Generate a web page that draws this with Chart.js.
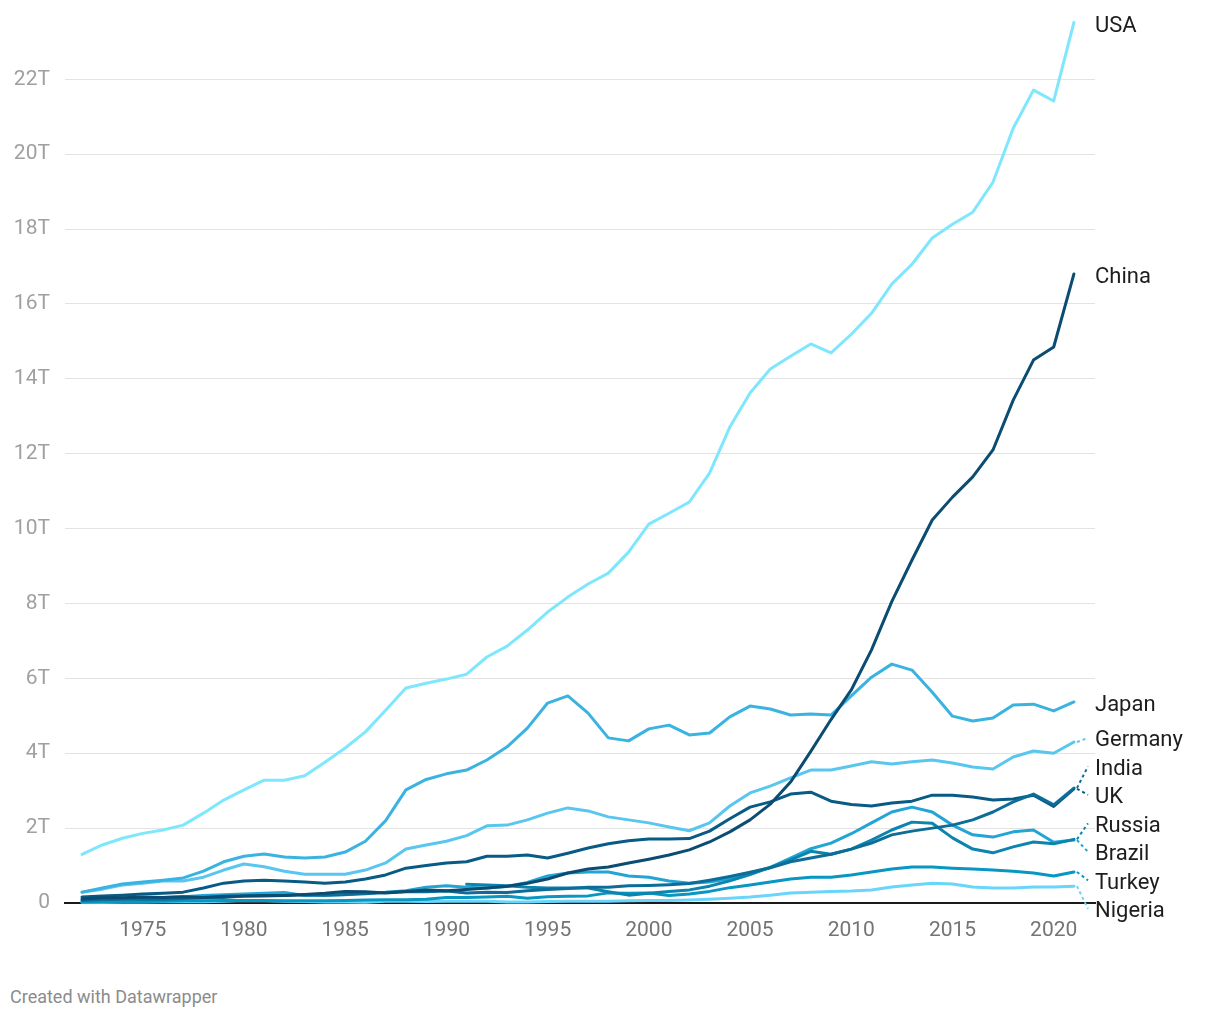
<!DOCTYPE html>
<html><head><meta charset="utf-8">
<script src="https://cdn.jsdelivr.net/npm/chart.js@4"></script>
<style>
html,body{margin:0;padding:0;background:#fff;}
#wrap{position:relative;width:1220px;height:1020px;}
#box{position:absolute;left:0;top:0;width:1220px;height:970px;}
#foot{position:absolute;left:10px;top:986px;font:18px Roboto, sans-serif;color:#8c8c8c;}
</style></head><body>
<div id="wrap"><div id="box"><canvas id="c"></canvas></div><div id="foot">Created with Datawrapper</div></div>
<script>
const years = [1972,1973,1974,1975,1976,1977,1978,1979,1980,1981,
1982,1983,1984,1985,1986,1987,1988,1989,1990,1991,
1992,1993,1994,1995,1996,1997,1998,1999,2000,2001,
2002,2003,2004,2005,2006,2007,2008,2009,2010,2011,
2012,2013,2014,2015,2016,2017,2018,2019,2020,2021];

const usa = [1.3,1.55,1.73,1.86,1.95,2.08,2.4,2.75,3.02,3.28,
3.28,3.4,3.76,4.14,4.57,5.15,5.74,5.87,5.98,6.11,
6.57,6.86,7.29,7.77,8.17,8.52,8.81,9.37,10.12,10.41,
10.71,11.48,12.71,13.62,14.26,14.6,14.93,14.69,15.19,15.75,
16.53,17.06,17.76,18.13,18.45,19.25,20.69,21.71,21.42,23.52];
const china = [0.11,0.14,0.14,0.16,0.15,0.17,0.15,0.18,0.19,0.2,
0.2,0.23,0.26,0.31,0.3,0.27,0.31,0.35,0.33,0.36,
0.4,0.45,0.53,0.64,0.8,0.91,0.96,1.07,1.17,1.28,
1.42,1.63,1.9,2.22,2.64,3.23,4.05,4.9,5.69,6.76,
8.05,9.16,10.23,10.84,11.38,12.1,13.43,14.5,14.85,16.8];
const japan = [0.29,0.4,0.51,0.56,0.61,0.67,0.85,1.1,1.25,1.31,
1.23,1.2,1.23,1.36,1.65,2.2,3.02,3.3,3.45,3.55,
3.82,4.17,4.67,5.34,5.53,5.07,4.41,4.33,4.65,4.75,
4.49,4.54,4.97,5.26,5.18,5.02,5.05,5.02,5.53,6.03,
6.38,6.22,5.63,4.99,4.86,4.94,5.29,5.31,5.13,5.37];
const germany = [0.29,0.37,0.48,0.53,0.59,0.59,0.69,0.88,1.04,0.97,
0.85,0.77,0.77,0.77,0.88,1.07,1.44,1.55,1.65,1.8,
2.06,2.08,2.22,2.4,2.54,2.46,2.3,2.22,2.14,2.03,
1.93,2.14,2.59,2.94,3.12,3.34,3.55,3.55,3.66,3.77,
3.71,3.77,3.82,3.74,3.63,3.58,3.9,4.06,4.0,4.3];
const india = [0.07,0.085,0.1,0.1,0.1,0.12,0.14,0.15,0.19,0.19,
0.2,0.22,0.21,0.23,0.25,0.28,0.3,0.3,0.32,0.27,
0.29,0.28,0.33,0.36,0.39,0.42,0.42,0.46,0.47,0.49,
0.52,0.61,0.71,0.82,0.94,1.1,1.2,1.3,1.44,1.6,
1.82,1.92,2.0,2.08,2.22,2.43,2.7,2.91,2.62,3.07];
const uk = [0.16,0.19,0.21,0.24,0.26,0.29,0.4,0.53,0.59,0.61,
0.59,0.56,0.53,0.56,0.64,0.75,0.93,1.0,1.07,1.1,
1.25,1.25,1.28,1.2,1.33,1.47,1.58,1.66,1.71,1.71,
1.72,1.92,2.25,2.56,2.7,2.91,2.96,2.72,2.63,2.59,
2.67,2.72,2.88,2.88,2.83,2.75,2.78,2.88,2.58,3.05];
const russia = [null,null,null,null,null,null,null,null,null,null,
null,null,null,null,null,null,null,null,null,0.5,
0.48,0.46,0.42,0.4,0.4,0.4,0.3,0.21,0.26,0.31,
0.35,0.45,0.59,0.76,0.95,1.15,1.38,1.3,1.44,1.68,
1.95,2.16,2.13,1.74,1.44,1.34,1.5,1.63,1.58,1.7];
const brazil = [0.06,0.08,0.1,0.12,0.15,0.17,0.2,0.22,0.24,0.26,
0.28,0.2,0.21,0.22,0.27,0.29,0.33,0.42,0.46,0.42,
0.4,0.44,0.55,0.72,0.8,0.83,0.83,0.72,0.69,0.59,
0.53,0.56,0.65,0.8,0.95,1.2,1.45,1.6,1.85,2.14,
2.43,2.56,2.43,2.08,1.82,1.76,1.9,1.95,1.62,1.68];
const turkey = [0.02,0.025,0.03,0.04,0.05,0.06,0.06,0.07,0.07,0.07,
0.06,0.06,0.06,0.07,0.08,0.09,0.09,0.1,0.15,0.15,
0.16,0.18,0.13,0.17,0.18,0.19,0.27,0.26,0.27,0.2,
0.24,0.31,0.41,0.48,0.56,0.64,0.69,0.69,0.75,0.83,
0.91,0.96,0.96,0.93,0.91,0.88,0.85,0.8,0.72,0.83];
const nigeria = [0.012,0.015,0.025,0.028,0.036,0.036,0.036,0.047,0.064,0.06,
0.05,0.04,0.03,0.03,0.02,0.05,0.05,0.04,0.05,0.05,
0.05,0.03,0.03,0.04,0.05,0.05,0.05,0.06,0.07,0.07,
0.08,0.1,0.13,0.16,0.21,0.27,0.29,0.31,0.32,0.35,
0.43,0.48,0.53,0.51,0.43,0.4,0.4,0.43,0.43,0.45];

const seriesNames = ["USA","China","Japan","Germany","India","UK","Russia","Brazil","Turkey","Nigeria"];
const seriesValues = [usa,china,japan,germany,india,uk,russia,brazil,turkey,nigeria];
const seriesColors = ["#7ee7fd","#0a4c72","#3ab3e0","#58c6ef","#0b6d98","#085b84","#0b84ae","#22a4d5","#0896c3","#69d5fa"];
const yTickValues = [0,2,4,6,8,10,12,14,16,18,20,22];
const xTickValues = [1975,1980,1985,1990,1995,2000,2005,2010,2015,2020];

const FONT = "Roboto, 'Noto Sans', sans-serif";

const endLabels = {
  id: 'endLabels',
  afterDatasetsDraw(chart) {
    const ctx = chart.ctx;
    const items = [];
    chart.data.datasets.forEach((ds, i) => {
      const meta = chart.getDatasetMeta(i);
      let last = -1;
      for (let k = ds.data.length - 1; k >= 0; k--) { if (ds.data[k].y !== null) { last = k; break; } }
      const pt = meta.data[last];
      items.push({ name: ds.label, color: ds.borderColor, x: pt.x, y: pt.y, t: pt.y + 4 });
    });
    items.sort((a, b) => a.t - b.t);
    const gap = 28.5;
    let clusters = items.map(it => ({ items: [it] }));
    const start = c => c.items.reduce((s, i) => s + i.t, 0) / c.items.length - (c.items.length - 1) * gap / 2;
    let changed = true;
    while (changed) {
      changed = false;
      for (let i = 0; i < clusters.length - 1; i++) {
        const a = clusters[i], b = clusters[i + 1];
        const aEnd = start(a) + (a.items.length - 1) * gap;
        if (start(b) - aEnd < gap) { a.items = a.items.concat(b.items); clusters.splice(i + 1, 1); changed = true; break; }
      }
    }
    clusters.forEach(c => { const s = start(c); c.items.forEach((it, k) => it.ly = s + k * gap); });
    const lx = chart.chartArea.right;
    ctx.save();
    items.forEach(it => {
      if (Math.abs(it.ly - it.t) > 4) {
        ctx.beginPath();
        ctx.setLineDash([3, 3]);
        ctx.strokeStyle = it.color;
        ctx.lineWidth = 2;
        ctx.moveTo(it.x + 3, it.y);
        ctx.lineTo(lx - 7, it.ly - 3);
        ctx.stroke();
      }
      ctx.setLineDash([]);
      ctx.fillStyle = '#1d1d1d';
      ctx.font = '22px ' + FONT;
      ctx.textAlign = 'left';
      ctx.textBaseline = 'middle';
      ctx.fillText(it.name, lx, it.ly);
    });
    ctx.restore();
  }
};

new Chart(document.getElementById('c'), {
  type: 'line',
  data: {
    datasets: seriesNames.map((n, i) => ({
      label: n,
      data: seriesValues[i].map((v, k) => ({ x: years[k], y: v })),
      borderColor: seriesColors[i],
      backgroundColor: seriesColors[i],
      borderWidth: 3,
      pointRadius: 0,
      tension: 0,
      spanGaps: false,
      clip: false,
      borderJoinStyle: 'round',
      borderCapStyle: 'round'
    }))
  },
  options: {
    responsive: true,
    maintainAspectRatio: false,
    animation: false,
    layout: { padding: { top: 10, right: 125, bottom: 0, left: 0 } },
    plugins: { legend: { display: false }, tooltip: { enabled: false } },
    scales: {
      x: {
        type: 'linear', min: 1971.16, max: 2022.04,
        afterBuildTicks: s => { s.ticks = xTickValues.map(v => ({ value: v })); },
        afterFit: s => { s.height = 67; s.paddingLeft = 0; s.paddingRight = 0; },
        grid: { display: false, drawTicks: false },
        border: { display: true, color: '#1a1a1a', width: 2 },
        ticks: { padding: 15, color: '#747474', font: { family: FONT, size: 21 }, callback: v => String(v), maxRotation: 0, autoSkip: false }
      },
      y: {
        min: 0, max: 23.85,
        afterBuildTicks: s => { s.ticks = yTickValues.map(v => ({ value: v })); },
        afterFit: s => { s.width = 65; s.paddingTop = 0; s.paddingBottom = 0; },
        grid: { drawTicks: false, color: c => c.tick && c.tick.value === 0 ? 'rgba(0,0,0,0)' : '#e3e3e3', lineWidth: 1 },
        border: { display: false },
        ticks: { padding: 15, color: '#a0a0a0', font: { family: FONT, size: 21 }, callback: v => v === 0 ? '0' : v + 'T' }
      }
    }
  },
  plugins: [endLabels]
});
</script>
</body></html>
